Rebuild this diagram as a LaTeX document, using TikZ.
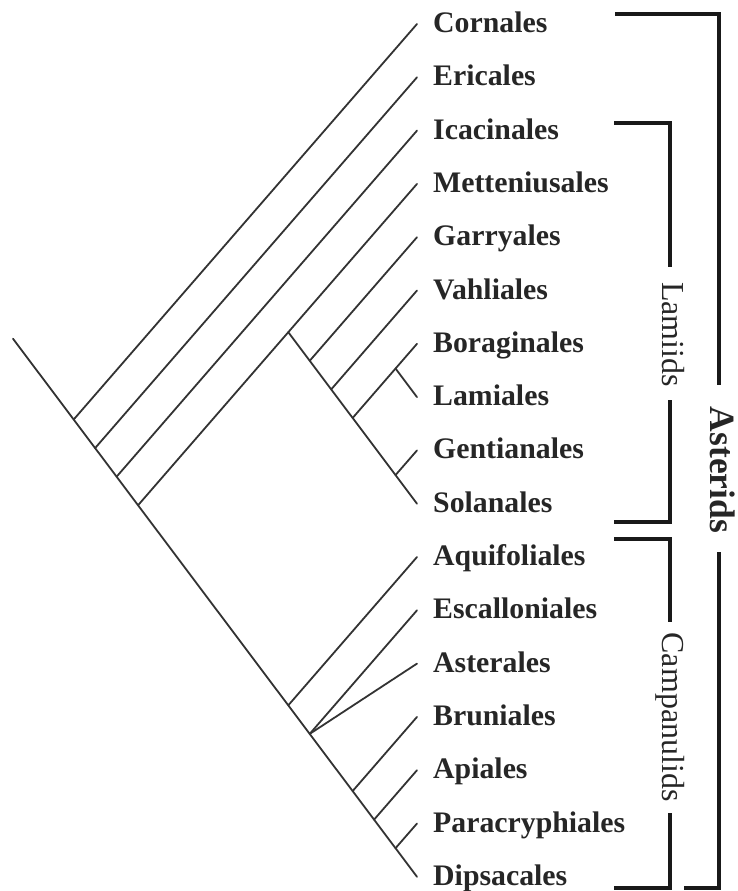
\documentclass[tikz,border=0pt]{standalone}
\usepackage{fontspec}
\setmainfont{Liberation Serif}
\begin{document}
\begin{tikzpicture}[x=1pt,y=-1pt,
  branch/.style={line width=1.8pt, draw=black!80, line cap=round},
  bracket/.style={line width=4pt, draw=black!90, line cap=butt, line join=miter},
  taxon/.style={anchor=base west, inner sep=0pt, font=\fontsize{29.8}{30}\selectfont\bfseries, text=black!85},
  clade/.style={rotate=-90, anchor=base, inner sep=0pt, font=\fontsize{32}{32}\selectfont, text=black!85},
  bigclade/.style={rotate=-90, anchor=base, inner sep=0pt, font=\fontsize{35.5}{36}\selectfont\bfseries, text=black!85}]
\useasboundingbox (0,0) rectangle (738,891);
% tips and labels
\foreach \i in {0,...,16} \coordinate (t\i) at (417,{24+53.3*\i});
\foreach \i/\nm in {0/Cornales,1/Ericales,2/Icacinales,3/Metteniusales,4/Garryales,5/Vahliales,6/Boraginales,7/Lamiales,8/Gentianales,9/Solanales,10/Aquifoliales,11/Escalloniales,12/Asterales,13/Bruniales,14/Apiales,15/Paracryphiales,16/Dipsacales}
  \node[taxon] (lab\i) at (433,{32.5+53.3*\i}) {\nm};
% internal nodes
\coordinate (root) at (13,338.7);
\coordinate (n1) at (73.7,419.5);
\coordinate (n2) at (95.1,448.1);
\coordinate (n3) at (116.6,476.7);
\coordinate (n4) at (138.1,505.2);
\coordinate (lam0) at (288.3,332.2);
\coordinate (lam1) at (309.7,360.8);
\coordinate (lam2) at (331.2,389.4);
\coordinate (lam3) at (352.6,418.0);
\coordinate (bor) at (395.5,368.5);
\coordinate (lam4) at (395.5,475.1);
\coordinate (c1) at (288.3,705.3);
\coordinate (c2) at (309.7,733.9);
\coordinate (c3) at (352.6,791.1);
\coordinate (c4) at (374.1,819.6);
\coordinate (c5) at (395.5,848.2);
% branches
\draw[branch] (root) -- (t16);
\draw[branch] (n1) -- (t0);
\draw[branch] (n2) -- (t1);
\draw[branch] (n3) -- (t2);
\draw[branch] (n4) -- (t3);
\draw[branch] (lam0) -- (t9);
\draw[branch] (lam1) -- (t4);
\draw[branch] (lam2) -- (t5);
\draw[branch] (lam3) -- (t6);
\draw[branch] (bor) -- (t7);
\draw[branch] (lam4) -- (t8);
\draw[branch] (c1) -- (t10);
\draw[branch] (c2) -- (t11);
\draw[branch] (c2) -- (t12);
\draw[branch] (c3) -- (t13);
\draw[branch] (c4) -- (t14);
\draw[branch] (c5) -- (t15);
% Asterids bracket
\coordinate (aT1) at (615,14.5);
\coordinate (aT2) at (718.5,14.5);
\coordinate (aM1) at (718.5,385);
\coordinate (aM2) at (718.5,552);
\coordinate (aB2) at (718.5,887.5);
\coordinate (aB1) at (684,887.5);
\draw[bracket] (aT1) -- (aT2) -- (aM1);
\draw[bracket] (aM2) -- (aB2) -- (aB1);
\node[bigclade] (asterids) at (710,470) {Asterids};
% Lamiids bracket
\coordinate (lT1) at (614,123);
\coordinate (lT2) at (669.5,123);
\coordinate (lM1) at (669.5,267);
\coordinate (lM2) at (669.5,400);
\coordinate (lB2) at (669.5,521.5);
\coordinate (lB1) at (614,521.5);
\draw[bracket] (lT1) -- (lT2) -- (lM1);
\draw[bracket] (lM2) -- (lB2) -- (lB1);
\node[clade] (lamiids) at (662,334.5) {Lamiids};
% Campanulids bracket
\coordinate (cT1) at (614,539);
\coordinate (cT2) at (669.5,539);
\coordinate (cM1) at (669.5,622);
\coordinate (cM2) at (669.5,813);
\coordinate (cB2) at (669.5,887.5);
\coordinate (cB1) at (614,887.5);
\draw[bracket] (cT1) -- (cT2) -- (cM1);
\draw[bracket] (cM2) -- (cB2) -- (cB1);
\node[clade] (campanulids) at (662,717) {Campanulids};
\end{tikzpicture}
\end{document}
